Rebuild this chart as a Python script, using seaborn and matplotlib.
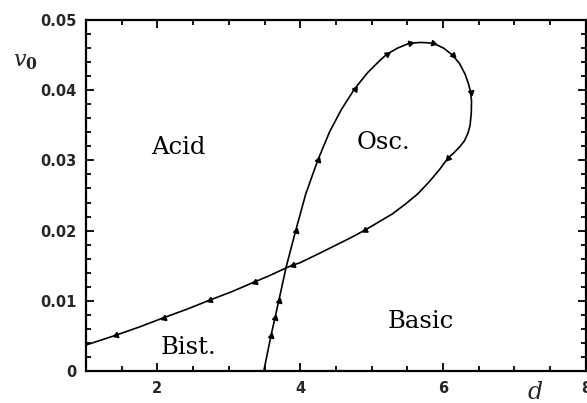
import numpy as np
import pandas as pd
import matplotlib
matplotlib.use("Agg")
import matplotlib.pyplot as plt
from matplotlib.markers import MarkerStyle
from matplotlib.ticker import MultipleLocator
import seaborn as sns

# Bifurcation boundary in the (d, v0) plane, traced along its path
d_curve = [3.49, 3.59, 3.645, 3.70, 3.803, 3.937, 4.077, 4.245, 4.413, 4.580,
           4.762, 4.944, 5.112, 5.210, 5.364, 5.532, 5.695, 5.860, 6.007, 6.133,
           6.231, 6.308, 6.357, 6.385, 6.399, 6.396, 6.379, 6.350, 6.301, 6.231,
           6.154, 6.067, 5.951, 5.811, 5.643, 5.476, 5.294, 5.112, 4.912, 4.692,
           4.455, 4.217, 3.993, 3.900, 3.807, 3.573, 3.364, 3.042, 2.734, 2.413,
           2.091, 1.755, 1.420, 1.000]
v_curve = [0.0, 0.0050, 0.0075, 0.0100, 0.0148, 0.0200, 0.0252, 0.0300, 0.0341,
           0.0373, 0.0402, 0.0425, 0.0442, 0.0451, 0.0460, 0.0467, 0.0468, 0.0467,
           0.0460, 0.0450, 0.0438, 0.0423, 0.0409, 0.0398, 0.0385, 0.0368, 0.0350,
           0.0339, 0.0328, 0.0319, 0.0311, 0.0303, 0.0287, 0.0270, 0.0252, 0.0238,
           0.0224, 0.0213, 0.0201, 0.0189, 0.0177, 0.0165, 0.0154, 0.0151, 0.0147,
           0.0136, 0.0127, 0.0113, 0.0101, 0.0088, 0.0076, 0.0063, 0.0051, 0.0037]

# Direction arrows placed along the boundary (indices into the curve)
arrow_idx = [1, 2, 3, 5, 7, 10, 13, 15, 17, 19, 23, 31, 38, 43, 46, 48, 50, 52]

region_names = ["Acid", "Osc.", "Basic", "Bist."]
region_d = [2.29, 5.17, 5.69, 2.43]
region_v = [0.0319, 0.0325, 0.0070, 0.0033]

x_ticks = [2, 4, 6, 8]
y_ticks = [0, 0.01, 0.02, 0.03, 0.04, 0.05]
y_tick_labels = ["0", "0.01", "0.02", "0.03", "0.04", "0.05"]

sns.set_theme(style="ticks")
plt.rcParams["font.family"] = ["DejaVu Sans"]
plt.rcParams["mathtext.fontset"] = "dejavuserif"

fig = plt.figure(figsize=(5.87, 4.03), dpi=100)
ax = fig.add_axes([0.1465, 0.0794, 0.8515, 0.871])

df = pd.DataFrame({"d": d_curve, "v0": v_curve})
sns.lineplot(data=df, x="d", y="v0", sort=False, estimator=None, color="black",
             linewidth=1.2, ax=ax)

ax.set_xlim(1, 8)
ax.set_ylim(0, 0.05)

# Arrowheads oriented along the local direction of travel
for i in arrow_idx:
    p0 = ax.transData.transform((d_curve[i - 1], v_curve[i - 1]))
    p1 = ax.transData.transform((d_curve[i + 1], v_curve[i + 1]))
    ang = np.degrees(np.arctan2(p1[1] - p0[1], p1[0] - p0[0])) - 90
    ax.plot(d_curve[i], v_curve[i], linestyle="none", color="black",
            marker=MarkerStyle((3, 0, ang)), markersize=4.5)

for name, xd, yv in zip(region_names, region_d, region_v):
    ax.text(xd, yv, name, ha="center", va="center", fontsize=17.5,
            family="DejaVu Serif", color="black")

ax.set_xticks(x_ticks)
ax.set_xticklabels([str(t) for t in x_ticks])
ax.set_yticks(y_ticks)
ax.set_yticklabels(y_tick_labels)
ax.xaxis.set_minor_locator(MultipleLocator(0.5))
ax.yaxis.set_minor_locator(MultipleLocator(0.002))
ax.tick_params(which="both", direction="in", top=True, right=True,
               color="black", width=1.3)
ax.tick_params(which="major", length=6, labelsize=10.5, pad=7)
ax.tick_params(which="minor", length=3.5)
for lab in ax.get_xticklabels() + ax.get_yticklabels():
    lab.set_fontweight("bold")
for s in ax.spines.values():
    s.set_linewidth(1.6)
    s.set_color("black")
    s.set_visible(True)

ax.set_xlabel("")
ax.set_ylabel("")
fig.text(25 / 587, 1 - 62 / 403, r"$v_\mathbf{0}$",
         ha="center", va="center", fontsize=16)
fig.text(535 / 587, 1 - 392 / 403, r"$d$", ha="center", va="center", fontsize=17)

fig.savefig("out.png", dpi=100)
